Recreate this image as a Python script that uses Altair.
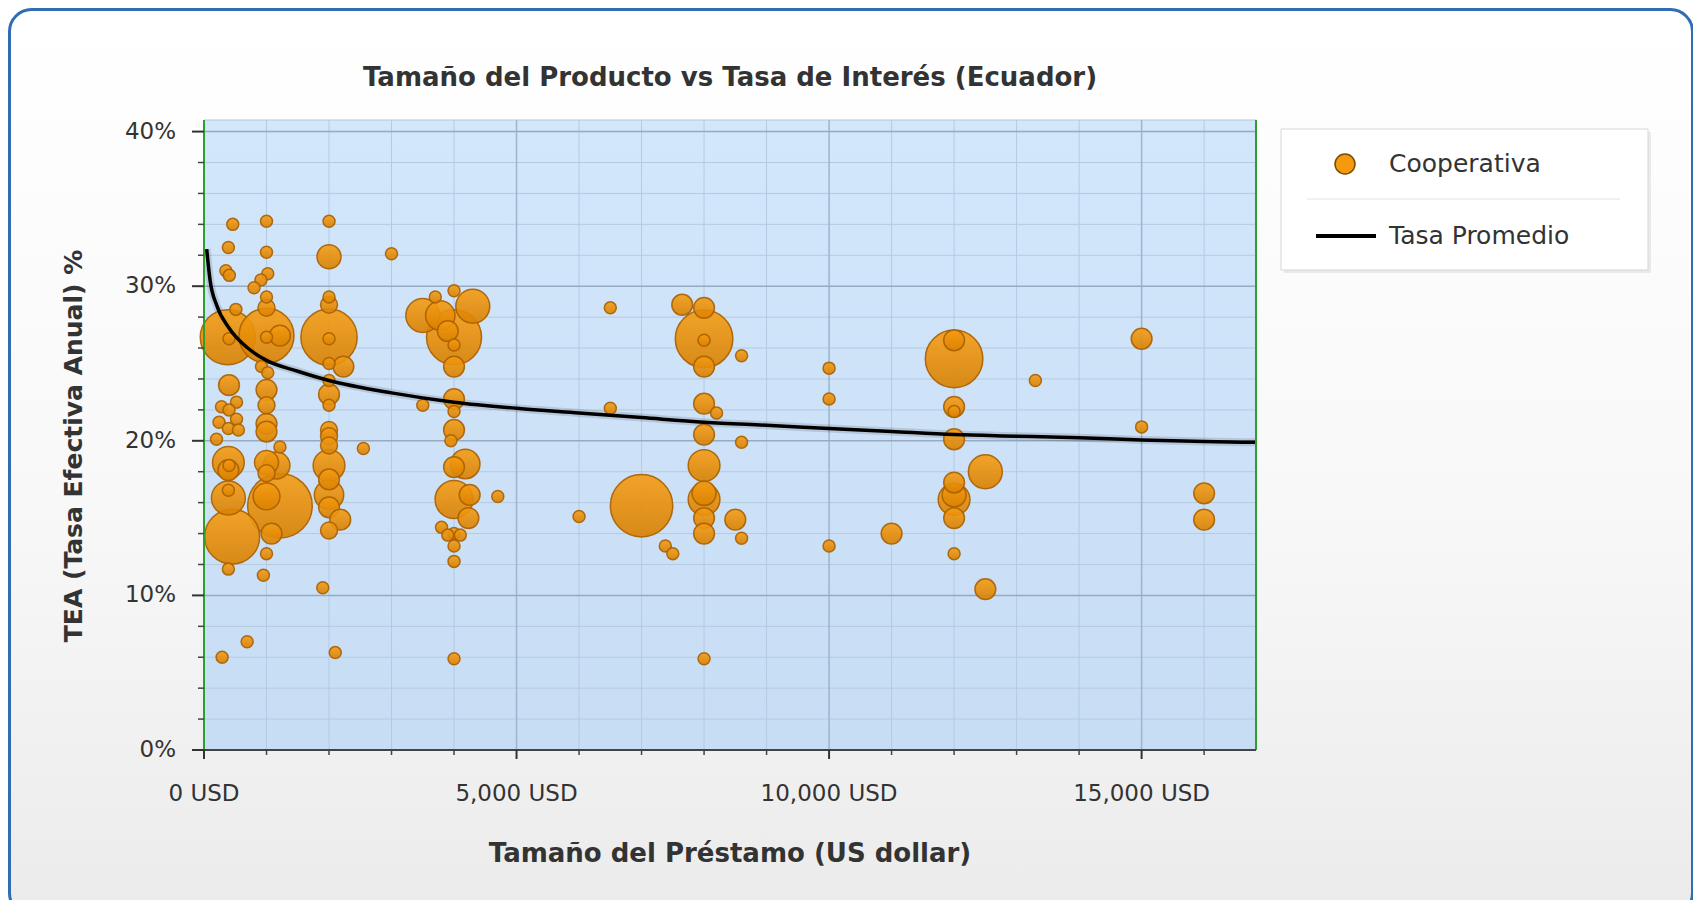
import altair as alt
import pandas as pd

# ---------------- data ----------------
loan_usd = [460, 390, 350, 405, 510, 380, 400, 400, 280, 520, 400, 240, 520, 390, 550, 200,
            390, 390, 400, 390, 390, 450, 390, 290, 690,
            1000, 1000, 1020, 910, 800, 1000, 1000, 1000, 1215, 1000, 920, 1020, 1000, 1000,
            1000, 1000, 1215, 1000, 1160, 1000, 1000, 1215, 1080, 1000, 950,
            2000, 2000, 3000, 2000, 2000, 2000, 2000, 2230, 2000, 2000, 2000, 2000, 2000, 2000,
            2000, 2550, 2000, 2000, 2000, 2000, 2180, 2000, 1900, 2100,
            4000, 3700, 3500, 3780, 4300, 4000, 3900, 4000, 4000, 3500, 4000, 4000, 4000, 3950,
            4180, 4000, 4000, 4250, 4700, 4230, 3800, 4000, 3900, 4100, 4000, 4000, 4000,
            6500, 6500, 6000, 7000, 7380, 7500,
            7650, 8000, 8000, 8000, 8600, 8000, 8000, 8200, 8000, 8600, 8000, 8000, 8000, 8000,
            8000, 8500, 8600, 8000,
            10000, 10000, 10000, 11000,
            12000, 12000, 12000, 12000, 12000, 12500, 12000, 12000, 12000, 12000, 12000, 12500,
            13300, 15000, 15000, 16000, 16000]
tea_pct = [34.0, 32.5, 31.0, 30.7, 28.5, 26.7, 26.6, 23.6, 22.2, 22.5, 22.0, 21.2, 21.4, 20.8, 20.7, 20.1,
           18.6, 18.1, 18.4, 16.3, 16.8, 13.8, 11.7, 6.0, 7.0,
           34.2, 32.2, 30.8, 30.4, 29.9, 29.3, 28.6, 26.8, 26.8, 26.7, 24.8, 24.4, 23.3, 22.3,
           21.1, 20.6, 19.6, 18.6, 18.4, 17.9, 16.4, 15.8, 14.0, 12.7, 11.3,
           34.2, 31.9, 32.1, 29.3, 28.8, 26.7, 26.6, 24.8, 25.0, 23.9, 23.0, 22.3, 20.7, 20.3,
           19.7, 19.5, 18.4, 17.5, 16.5, 15.7, 14.9, 14.2, 10.5, 6.3,
           29.7, 29.3, 28.1, 28.1, 28.7, 26.7, 27.1, 26.2, 24.8, 22.3, 22.7, 21.9, 20.7, 20.0,
           18.5, 18.3, 16.2, 16.5, 16.4, 15.0, 14.4, 14.0, 13.9, 13.9, 13.2, 12.2, 5.9,
           28.6, 22.1, 15.1, 15.8, 13.2, 12.7,
           28.8, 28.6, 26.6, 26.5, 25.5, 24.8, 22.4, 21.8, 20.4, 19.9, 18.4, 16.6, 16.2, 15.0,
           14.0, 14.9, 13.7, 5.9,
           24.7, 22.7, 13.2, 14.0,
           26.5, 25.3, 22.2, 21.9, 20.1, 18.0, 17.3, 16.5, 16.2, 15.0, 12.7, 10.4,
           23.9, 26.6, 20.9, 16.6, 14.9]
peso = [1, 1, 1, 1, 1, 21, 1, 3, 1, 1, 1, 1, 1, 1, 1, 1,
        7, 3, 1, 8, 1, 21, 1, 1, 1,
        1, 1, 1, 1, 1, 1, 2, 21, 3, 1, 1, 1, 3, 2,
        3, 3, 1, 4, 5, 2, 5, 29, 3, 1, 1,
        1, 4, 1, 1, 2, 22, 1, 3, 1, 1, 3, 1, 2, 2,
        2, 1, 7, 3, 6, 3, 3, 2, 1, 1,
        1, 1, 8, 6, 8, 21, 3, 1, 3, 1, 3, 1, 3, 1,
        6, 3, 10, 3, 1, 3, 1, 1, 1, 1, 1, 1, 1,
        1, 1, 1, 27, 1, 1,
        3, 3, 23, 1, 1, 3, 3, 1, 3, 1, 7, 4, 7, 3,
        3, 3, 1, 1,
        1, 1, 1, 3,
        3, 23, 3, 1, 3, 8, 3, 4, 7, 3, 1, 3,
        1, 3, 1, 3, 3]

curve_usd = [43, 100, 200, 400, 700, 1000, 1500, 2000, 3000, 4000, 5000, 6000, 7000, 8000,
             9000, 10000, 11000, 12000, 13000, 14000, 15000, 16000, 16830]
curve_tea = [32.4, 30.3, 28.8, 27.3, 26.0, 25.2, 24.5, 23.9, 23.1, 22.5, 22.1, 21.8, 21.5, 21.2,
             21.0, 20.8, 20.6, 20.4, 20.3, 20.2, 20.05, 19.95, 19.9]

series_names = ["Cooperativa", "Tasa Promedio"]
chart_title = "Tamaño del Producto vs Tasa de Interés (Ecuador)"
x_title = "Tamaño del Préstamo (US dollar)"
y_title = "TEA (Tasa Efectiva Anual) %"

x_major = [0, 5000, 10000, 15000]
x_labels = ["0 USD", "5,000 USD", "10,000 USD", "15,000 USD"]
x_minor = [1000, 2000, 3000, 4000, 6000, 7000, 8000, 9000, 11000, 12000, 13000, 14000, 16000]
y_major = [0, 10, 20, 30, 40]
y_labels = ["0%", "10%", "20%", "30%", "40%"]
y_minor = [2, 4, 6, 8, 12, 14, 16, 18, 22, 24, 26, 28, 32, 34, 36, 38]

# ---------------- layout / style ----------------
W, H = 1052, 630
XMAX, YMAX = 16830, 40.75
FONT = "DejaVu Sans"
TXT = "#333333"
GREEN = "#2e9e2e"

xs = alt.Scale(domain=[0, XMAX], nice=False, zero=False)
ys = alt.Scale(domain=[0, YMAX], nice=False, zero=False)

one = pd.DataFrame({"k": [0]})

frame = alt.Chart(one).mark_rect(
    cornerRadius=22, stroke="#2f6db5", strokeWidth=3,
    fill=alt.Gradient(gradient="linear", x1=0, x2=0, y1=0, y2=1,
                      stops=[alt.GradientStop(offset=0, color="#ffffff"),
                             alt.GradientStop(offset=0.55, color="#f8f8f8"),
                             alt.GradientStop(offset=1, color="#ebebeb")])
).encode(x=alt.value(-194.5), x2=alt.value(1488.5), y=alt.value(-110.5), y2=alt.value(795))

plot_bg = alt.Chart(one).mark_rect(
    stroke="#b9c6d3", strokeWidth=1,
    fill=alt.Gradient(gradient="linear", x1=0, x2=0, y1=0, y2=1,
                      stops=[alt.GradientStop(offset=0, color="#d3e7fb"),
                             alt.GradientStop(offset=1, color="#c7ddf4")])
).encode(x=alt.value(0), x2=alt.value(W), y=alt.value(0), y2=alt.value(H))

vgrid_minor = alt.Chart(pd.DataFrame({"v": x_minor})).mark_rule(
    color="#b4cae2", strokeWidth=1).encode(x=alt.X("v:Q", scale=xs, axis=None))
vgrid_major = alt.Chart(pd.DataFrame({"v": x_major[1:]})).mark_rule(
    color="#9db4cc", strokeWidth=1.5).encode(x=alt.X("v:Q", scale=xs, axis=None))
hgrid_minor = alt.Chart(pd.DataFrame({"v": y_minor + [40]})).mark_rule(
    color="#b4cae2", strokeWidth=1).encode(y=alt.Y("v:Q", scale=ys, axis=None))
hgrid_major = alt.Chart(pd.DataFrame({"v": y_major[1:]})).mark_rule(
    color="#94abc3", strokeWidth=1.5).encode(y=alt.Y("v:Q", scale=ys, axis=None))

edges_v = alt.Chart(pd.DataFrame({"v": [0, XMAX]})).mark_rule(
    color=GREEN, strokeWidth=2).encode(x=alt.X("v:Q", scale=xs, axis=None))
edge_bottom = alt.Chart(pd.DataFrame({"v": [0]})).mark_rule(
    color="#444444", strokeWidth=2).encode(y=alt.Y("v:Q", scale=ys, axis=None))

y_major_ticks = alt.Chart(pd.DataFrame({"v": y_major})).mark_rule(
    color="#333333", strokeWidth=2).encode(
    y=alt.Y("v:Q", scale=ys, axis=None), x=alt.value(-12), x2=alt.value(0))
y_minor_ticks = alt.Chart(pd.DataFrame({"v": y_minor})).mark_rule(
    color="#444444", strokeWidth=1.5).encode(
    y=alt.Y("v:Q", scale=ys, axis=None), x=alt.value(-6), x2=alt.value(0))
x_major_ticks = alt.Chart(pd.DataFrame({"v": x_major})).mark_rule(
    color="#333333", strokeWidth=2).encode(
    x=alt.X("v:Q", scale=xs, axis=None), y=alt.value(H), y2=alt.value(H + 9))
x_minor_ticks = alt.Chart(pd.DataFrame({"v": x_minor})).mark_rule(
    color="#444444", strokeWidth=1.5).encode(
    x=alt.X("v:Q", scale=xs, axis=None), y=alt.value(H), y2=alt.value(H + 5))

# tick labels and titles as text marks
x_lab = alt.Chart(pd.DataFrame({"v": x_major, "t": x_labels})).mark_text(
    font=FONT, fontSize=23, color=TXT, align="center", baseline="middle").encode(
    x=alt.X("v:Q", scale=xs, axis=None), y=alt.value(H + 44), text="t:N")
y_lab = alt.Chart(pd.DataFrame({"v": y_major, "t": y_labels})).mark_text(
    font=FONT, fontSize=23, color=TXT, align="right", baseline="middle").encode(
    y=alt.Y("v:Q", scale=ys, axis=None), x=alt.value(-28), text="t:N")
x_tit = alt.Chart(pd.DataFrame({"t": [x_title]})).mark_text(
    font=FONT, fontSize=26, fontWeight="bold", color=TXT, align="center", baseline="middle").encode(
    x=alt.value(W / 2), y=alt.value(734), text="t:N")
y_tit = alt.Chart(pd.DataFrame({"t": [y_title]})).mark_text(
    font=FONT, fontSize=25, fontWeight="bold", color=TXT, align="center", baseline="middle",
    angle=270).encode(x=alt.value(-130), y=alt.value(326), text="t:N")
main_tit = alt.Chart(pd.DataFrame({"t": [chart_title]})).mark_text(
    font=FONT, fontSize=26, fontWeight="bold", color=TXT, align="center", baseline="middle").encode(
    x=alt.value(W / 2), y=alt.value(-42), text="t:N")

curve_df = pd.DataFrame({"usd": curve_usd, "tea": curve_tea})
curve_glow = alt.Chart(curve_df).mark_line(
    color="#000000", strokeWidth=8, opacity=0.12, interpolate="monotone").encode(
    x=alt.X("usd:Q", scale=xs, axis=None), y=alt.Y("tea:Q", scale=ys, axis=None))
curve = alt.Chart(curve_df).mark_line(
    color="#000000", strokeWidth=3.5, interpolate="monotone").encode(
    x=alt.X("usd:Q", scale=xs, axis=None), y=alt.Y("tea:Q", scale=ys, axis=None))

bub_df = pd.DataFrame({"usd": loan_usd, "tea": tea_pct, "peso": peso}).sort_values(
    "peso", ascending=False, kind="stable")

orange_grad = alt.Gradient(gradient="linear", x1=0, x2=0, y1=0, y2=1,
                           stops=[alt.GradientStop(offset=0, color="#f59c12"),
                                  alt.GradientStop(offset=1, color="#d98000")])

bubbles = alt.Chart(bub_df).mark_circle(
    fill=orange_grad, fillOpacity=0.9, stroke="#a85f00", strokeWidth=1.5, strokeOpacity=0.9
).encode(
    x=alt.X("usd:Q", scale=xs, axis=None),
    y=alt.Y("tea:Q", scale=ys, axis=None),
    size=alt.Size("peso:Q", scale=alt.Scale(domain=[0, 30], range=[0, 4320]), legend=None),
)

# ---------------- legend (drawn) ----------------
leg_shadow = alt.Chart(one).mark_rect(fill="#000000", opacity=0.07).encode(
    x=alt.value(1080), x2=alt.value(1447), y=alt.value(12), y2=alt.value(153))
leg_box = alt.Chart(one).mark_rect(fill="#ffffff", stroke="#d6d6d6", strokeWidth=1).encode(
    x=alt.value(1077), x2=alt.value(1444), y=alt.value(9), y2=alt.value(150))
leg_sep = alt.Chart(one).mark_rule(color="#e4e4e4", strokeWidth=1).encode(
    x=alt.value(1103), x2=alt.value(1416), y=alt.value(79))
leg_dot = alt.Chart(one).mark_circle(
    size=400, fill="#f59a0e", fillOpacity=1, stroke="#7a4a00", strokeWidth=1.5).encode(
    x=alt.value(1141), y=alt.value(44))
leg_line = alt.Chart(one).mark_rule(color="#000000", strokeWidth=4).encode(
    x=alt.value(1112), x2=alt.value(1172), y=alt.value(116))
leg_t1 = alt.Chart(pd.DataFrame({"label": [series_names[0]]})).mark_text(
    align="left", baseline="middle", font=FONT, fontSize=25, color=TXT).encode(
    x=alt.value(1185), y=alt.value(44), text="label:N")
leg_t2 = alt.Chart(pd.DataFrame({"label": [series_names[1]]})).mark_text(
    align="left", baseline="middle", font=FONT, fontSize=25, color=TXT).encode(
    x=alt.value(1185), y=alt.value(116), text="label:N")

chart = alt.layer(
    frame, plot_bg, vgrid_minor, hgrid_minor, vgrid_major, hgrid_major,
    curve_glow, bubbles, curve, edges_v, edge_bottom,
    y_major_ticks, y_minor_ticks, x_major_ticks, x_minor_ticks,
    x_lab, y_lab, x_tit, y_tit, main_tit,
    leg_shadow, leg_box, leg_sep, leg_dot, leg_line, leg_t1, leg_t2
).properties(
    width=W, height=H,
    autosize=alt.AutoSizeParams(type="none"),
    padding={"left": 196, "top": 112, "right": 437, "bottom": 150},
).configure_view(stroke=None).configure(background="#ffffff")

chart.save("out.html", embed_options={"renderer": "svg", "actions": False})
